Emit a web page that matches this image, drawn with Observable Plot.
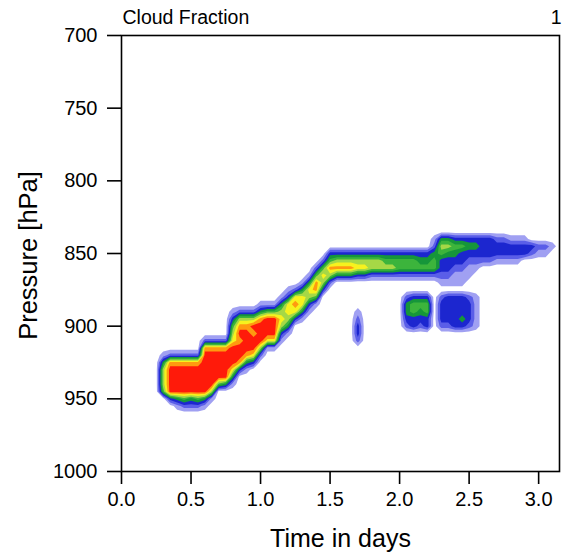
<!DOCTYPE html>
<html>
<head>
<meta charset="utf-8">
<script src="https://cdn.jsdelivr.net/npm/d3@7"></script>
<script src="https://cdn.jsdelivr.net/npm/@observablehq/plot@0.6"></script>
<style>
  html, body { margin: 0; padding: 0; background: #fff; }
  #chart svg { display: block; }
</style>
</head>
<body>
<div id="chart"></div>
<script>
// Model time (days) of each sampled column
const times = [0.00,0.05,0.10,0.15,0.20,0.25,0.30,0.35,0.40,0.45,0.50,0.55,0.60,0.65,0.70,0.75,
               0.80,0.85,0.90,0.95,1.00,1.05,1.10,1.15,1.20,1.25,1.30,1.35,1.40,1.45,1.50,1.55,
               1.60,1.65,1.70,1.75,1.80,1.85,1.90,1.95,2.00,2.05,2.10,2.15,2.20,2.25,2.30,2.35,
               2.40,2.45,2.50,2.55,2.60,2.65,2.70,2.75,2.80,2.85,2.90,2.95,3.00,3.05,3.10,3.15];

// Pressure levels (hPa) of each profile entry, top to bottom
const pressures = [830,835,840,845,850,855,860,865,870,875,880,885,890,895,900,
                   905,910,915,920,925,930,935,940,945,950,955,960];

// Cloud fraction profiles in tenths, one string per time, ordered by pressure
// (spaces only group the levels in fives: 830-850, 855-875, 880-900, ...)
const cloudProfiles = [
  "00000 00000 00000 00000 00000 00", // 0.00
  "00000 00000 00000 00000 00000 00", // 0.05
  "00000 00000 00000 00000 00000 00", // 0.10
  "00000 00000 00000 00000 00000 00", // 0.15
  "00000 00000 00000 00000 00000 00", // 0.20
  "00000 00000 00000 00000 00000 00", // 0.25
  "00000 00000 00000 00014 66650 00", // 0.30
  "00000 00000 00000 00028 99993 00", // 0.35
  "00000 00000 00000 00028 99994 10", // 0.40
  "00000 00000 00000 00028 99995 20", // 0.45
  "00000 00000 00000 00028 99994 20", // 0.50
  "00000 00000 00000 00028 99995 20", // 0.55
  "00000 00000 00000 02899 99994 10", // 0.60
  "00000 00000 00000 02899 99961 00", // 0.65
  "00000 00000 00000 02899 99500 00", // 0.70
  "00000 00000 00000 02899 99400 00", // 0.75
  "00000 00000 00135 67999 74100 00", // 0.80
  "00000 00000 00268 98998 30000 00", // 0.85
  "00000 00000 00268 99984 10000 00", // 0.90
  "00000 00000 00269 89973 00000 00", // 0.95
  "00000 00000 01489 99620 00000 00", // 1.00
  "00000 00000 01599 97100 00000 00", // 1.05
  "00000 00000 01599 97100 00000 00", // 1.10
  "00000 00000 14676 31000 00000 00", // 1.15
  "00000 00001 37764 10000 00000 00", // 1.20
  "00000 00002 78730 00000 00000 00", // 1.25
  "00000 00014 77410 00000 00000 00", // 1.30
  "00000 00147 63100 00000 00000 00", // 1.35
  "00000 02588 51000 00000 00000 00", // 1.40
  "00000 25763 00000 00000 00000 00", // 1.45
  "00003 58620 00000 00000 00000 00", // 1.50
  "00003 68400 00000 00000 00000 00", // 1.55
  "00003 68400 00000 00000 00000 00", // 1.60
  "00003 68400 00000 00000 00000 00", // 1.65
  "00003 67300 00123 32000 00000 00", // 1.70
  "00003 67300 00000 00000 00000 00", // 1.75
  "00003 66200 00000 00000 00000 00", // 1.80
  "00003 66200 00000 00000 00000 00", // 1.85
  "00003 56200 00000 00000 00000 00", // 1.90
  "00003 56200 00000 00000 00000 00", // 1.95
  "00003 55200 00000 00000 00000 00", // 2.00
  "00003 55200 24432 00000 00000 00", // 2.05
  "00003 55200 35533 00000 00000 00", // 2.10
  "00003 45200 35432 00000 00000 00", // 2.15
  "00003 45200 35533 00000 00000 00", // 2.20
  "00124 55200 00000 00000 00000 00", // 2.25
  "00465 33210 23332 00000 00000 00", // 2.30
  "00464 33210 33332 00000 00000 00", // 2.35
  "00354 32110 33333 00000 00000 00", // 2.40
  "00353 32110 33343 00000 00000 00", // 2.45
  "00343 21100 23332 00000 00000 00", // 2.50
  "00343 21000 11111 00000 00000 00", // 2.55
  "00333 20000 00000 00000 00000 00", // 2.60
  "00333 20000 00000 00000 00000 00", // 2.65
  "00233 10000 00000 00000 00000 00", // 2.70
  "00233 10000 00000 00000 00000 00", // 2.75
  "00133 10000 00000 00000 00000 00", // 2.80
  "00133 10000 00000 00000 00000 00", // 2.85
  "00133 00000 00000 00000 00000 00", // 2.90
  "00032 00000 00000 00000 00000 00", // 2.95
  "00021 00000 00000 00000 00000 00", // 3.00
  "00021 00000 00000 00000 00000 00", // 3.05
  "00010 00000 00000 00000 00000 00", // 3.10
  "00000 00000 00000 00000 00000 00"  // 3.15
];

// Contour levels and their fill colours
const levels = [0.05, 0.15, 0.25, 0.35, 0.45, 0.55, 0.65, 0.75, 0.85];
const levelColors = ["#a0a0f2", "#5a5ee8", "#1c26cf", "#16963a", "#3cb43c",
                     "#a6d846", "#f6f21e", "#ff9a10", "#ff1a0a"];

const timeTicks = [0, 0.5, 1, 1.5, 2, 2.5, 3];
const pressureTicks = [700, 750, 800, 850, 900, 950, 1000];

// Flatten the profiles into a row-major grid (rows = pressure, columns = time)
const nx = times.length, ny = pressures.length;
const cols = cloudProfiles.map(s => s.replace(/ /g, ""));
const grid = new Array(nx * ny);
for (let j = 0; j < ny; ++j)
  for (let i = 0; i < nx; ++i)
    grid[j * nx + i] = +cols[i][j] / 10;
const dt = times[1] - times[0], dp = pressures[1] - pressures[0];

const font = "'Liberation Sans', Arial, Helvetica, sans-serif";

const chart = Plot.plot({
  width: 564,
  height: 555,
  marginTop: 35,
  marginRight: 5,
  marginBottom: 84,
  marginLeft: 121,
  style: {fontFamily: font, fontSize: "20px", color: "#000", background: "#fff"},
  x: {domain: [0, 3.15], label: null},
  y: {domain: [700, 1000], reverse: true, label: null},
  color: {type: "threshold", domain: levels.slice(1), range: levelColors},
  marks: [
    Plot.contour(grid, {
      width: nx,
      height: ny,
      x1: times[0] - dt / 2,
      x2: times[nx - 1] + dt / 2,
      y1: pressures[0] - dp / 2,
      y2: pressures[ny - 1] + dp / 2,
      fill: Plot.identity,
      thresholds: levels,
      stroke: "none",
      clip: true
    }),
    Plot.frame({stroke: "#000", strokeWidth: 1.6}),
    Plot.axisX({ticks: timeTicks, tickFormat: d => d.toFixed(1), tickSize: 13,
                tickPadding: 7, strokeWidth: 1.6, fontSize: 20, label: null}),
    Plot.axisY({ticks: pressureTicks, tickFormat: d => String(d), tickSize: 14,
                tickPadding: 10, strokeWidth: 1.6, fontSize: 20, label: null}),
    Plot.text(["Time in days"], {frameAnchor: "bottom", lineAnchor: "middle",
                                 dy: 67, fontSize: 25}),
    Plot.text(["Pressure [hPa]"], {frameAnchor: "left", textAnchor: "middle", lineAnchor: "middle",
                                   dx: -93, dy: 2, rotate: -90, fontSize: 25.5}),
    Plot.text(["Cloud Fraction"], {frameAnchor: "top-left", textAnchor: "start", lineAnchor: "middle",
                                   dx: 1, dy: -18, fontSize: 19.5}),
    Plot.text(["1"], {frameAnchor: "top-right", textAnchor: "end", lineAnchor: "middle",
                      dx: 2, dy: -18, fontSize: 19.5})
  ]
});

document.getElementById("chart").append(chart);
</script>
</body>
</html>
